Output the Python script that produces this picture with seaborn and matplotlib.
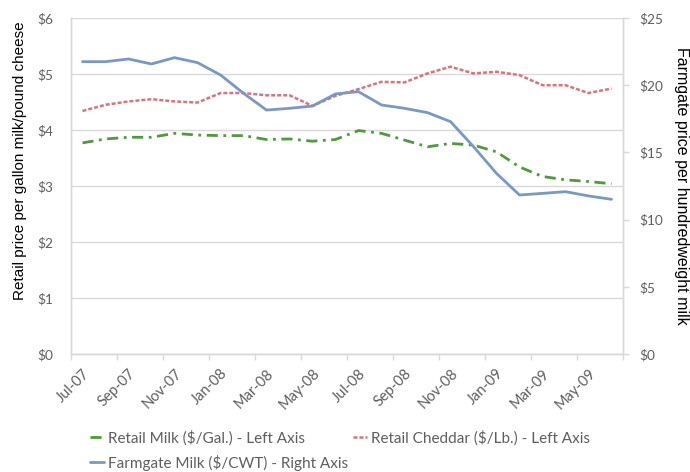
import numpy as np
import pandas as pd
import matplotlib
matplotlib.use("Agg")
import matplotlib.pyplot as plt
import seaborn as sns
from matplotlib.ticker import FuncFormatter, FixedLocator

# Monthly series, Jul 2007 - Jun 2009
months = ["Jul-07", "Aug-07", "Sep-07", "Oct-07", "Nov-07", "Dec-07",
          "Jan-08", "Feb-08", "Mar-08", "Apr-08", "May-08", "Jun-08",
          "Jul-08", "Aug-08", "Sep-08", "Oct-08", "Nov-08", "Dec-08",
          "Jan-09", "Feb-09", "Mar-09", "Apr-09", "May-09", "Jun-09"]

# Retail milk, $ per gallon (left axis)
retail_milk = [3.77, 3.84, 3.87, 3.87, 3.94, 3.91, 3.90, 3.90, 3.83, 3.84,
               3.80, 3.83, 3.99, 3.94, 3.82, 3.70, 3.76, 3.73, 3.61, 3.34,
               3.17, 3.11, 3.08, 3.04]

# Retail cheddar, $ per pound (left axis)
retail_cheddar = [4.34, 4.45, 4.51, 4.55, 4.51, 4.49, 4.66, 4.66, 4.62, 4.62,
                  4.43, 4.61, 4.73, 4.86, 4.85, 5.01, 5.13, 5.01, 5.04, 4.98,
                  4.80, 4.80, 4.66, 4.74]

# Farmgate milk, $ per hundredweight (right axis)
farmgate_milk = [21.75, 21.75, 21.95, 21.58, 22.05, 21.68, 20.76, 19.40,
                 18.15, 18.28, 18.45, 19.35, 19.52, 18.53, 18.28, 17.96,
                 17.29, 15.43, 13.44, 11.83, 11.95, 12.08, 11.76, 11.51]

label_milk = "Retail Milk ($/Gal.) - Left Axis"
label_cheddar = "Retail Cheddar ($/Lb.) - Left Axis"
label_farm = "Farmgate Milk ($/CWT) - Right Axis"

df = pd.DataFrame({
    "month": months,
    "pos": np.arange(len(months)),
    "milk": retail_milk,
    "cheddar": retail_cheddar,
    "farmgate": farmgate_milk,
})

sns.set_theme(style="white")
plt.rcParams["font.family"] = ["Lato", "DejaVu Sans"]

tick_color = "#5f5f5f"
grid_color = "#d9d9d9"

fig = plt.figure(figsize=(6.9, 4.72), dpi=100)
ax = fig.add_axes([71 / 690, 1 - 354 / 472, 552 / 690, 336 / 472])
ax2 = ax.twinx()

sns.lineplot(data=df, x="pos", y="milk", ax=ax, color="#4e9a3c", lw=2.0,
             linestyle=(0, (4, 2, 1, 2)), label=label_milk)
sns.lineplot(data=df, x="pos", y="cheddar", ax=ax, color="#d9737d", lw=1.8,
             linestyle=(0, (1.6, 0.8)), label=label_cheddar)
sns.lineplot(data=df, x="pos", y="farmgate", ax=ax2, color="#7898c6", lw=2.0,
             label=label_farm)

for a in (ax, ax2):
    if a.get_legend() is not None:
        a.get_legend().remove()

# Left axis: retail prices
ax.set_ylim(0, 6)
ax.set_yticks(np.arange(0, 7, 1))
ax.yaxis.set_major_formatter(FuncFormatter(lambda v, p: f"${v:.0f}"))
ax.yaxis.grid(True, color=grid_color, lw=1.0)
ax.xaxis.grid(False)
ax.set_ylabel("")
ax.set_xlabel("")

# Right axis: farmgate price
ax2.set_ylim(0, 25)
ax2.set_yticks(np.arange(0, 26, 5))
ax2.yaxis.set_major_formatter(FuncFormatter(lambda v, p: f"${v:.0f}"))
ax2.grid(False)
ax2.set_ylabel("")

# Category axis: labels every other month, tick marks on category boundaries
ax.set_xlim(-0.5, len(months) - 0.5)
ax.set_xticks(df["pos"][::2])
ax.set_xticklabels(df["month"][::2], rotation=45, ha="right",
                   rotation_mode="anchor", color=tick_color, fontsize=10.5)
ax.xaxis.set_minor_locator(FixedLocator(np.arange(-0.5, len(months), 2)))
ax.tick_params(axis="x", which="major", length=0, pad=9)
ax.tick_params(axis="x", which="minor", length=4, width=1, color=grid_color,
               bottom=True, direction="out")
ax.tick_params(axis="y", length=0, pad=13, labelcolor=tick_color,
               labelsize=9.8)
ax2.tick_params(axis="y", length=4, width=1, color=grid_color, pad=8,
                labelcolor=tick_color, labelsize=9.8, direction="out")

for a in (ax, ax2):
    a.spines["top"].set_visible(False)
    for s in ("left", "bottom", "right"):
        a.spines[s].set_color(grid_color)
        a.spines[s].set_linewidth(1.0)

# Axis titles
fig.text(20 / 690, 1 - 161 / 472, "Retail price per gallon milk/pound cheese",
         rotation=90, ha="center", va="center", fontsize=11,
         family=["Liberation Sans", "DejaVu Sans"], color="black")
fig.text(681 / 690, 1 - 186 / 472, "Farmgate price per hundredweight milk",
         rotation=-90, ha="center", va="center", fontsize=11.5,
         family=["Liberation Sans", "DejaVu Sans"], color="black")

# Legend below the chart
h1, l1 = ax.get_legend_handles_labels()
h2, l2 = ax2.get_legend_handles_labels()
handles = dict(zip(l1 + l2, h1 + h2))
order = [label_milk, label_farm, label_cheddar]
leg = fig.legend([handles[k] for k in order], order, ncol=2,
                 loc="upper left", bbox_to_anchor=(90 / 690, 1 - 430 / 472),
                 frameon=False, borderpad=0, borderaxespad=0,
                 handlelength=0.9, handletextpad=0.3, columnspacing=0.3,
                 labelspacing=0.62, fontsize=11)
for t in leg.get_texts():
    t.set_color(tick_color)

fig.savefig("out.png", dpi=100)
